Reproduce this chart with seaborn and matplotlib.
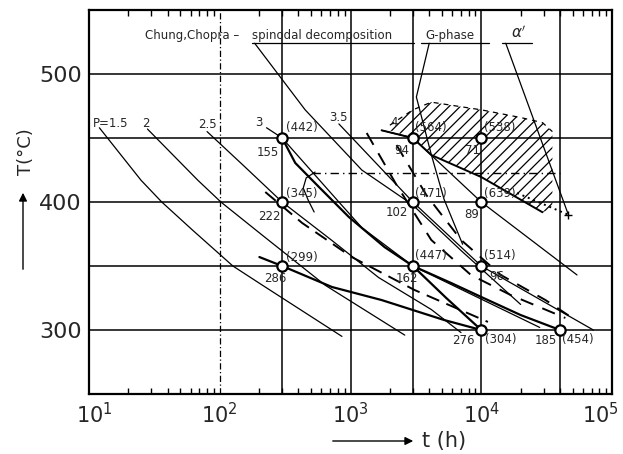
import matplotlib
matplotlib.use("Agg")
import matplotlib.pyplot as plt
import matplotlib.transforms as mtransforms
from matplotlib.ticker import LogLocator, NullFormatter
import seaborn as sns

# ---------------- data ----------------
# iso-parameter lines P
p_labels = ["P=1.5", "2", "2.5", "3", "3.5", "4"]
p15_t = [12, 25, 36, 62, 126, 212, 860]
p15_T = [458, 417, 400, 378, 350, 335, 295]
p2_t = [28, 68, 102, 212, 640, 2600]
p2_T = [457, 417, 400, 374, 335, 296]
p25_t = [80, 150, 300, 720, 1640, 4150, 7000]
p25_T = [455, 429, 400, 370, 341, 316, 298]
p3_t = [228, 300, 815, 1220, 3000, 28000]
p3_T = [458, 450, 400, 380, 350, 302]
p35_t = [815, 3000, 10000, 72000]
p35_T = [461, 400, 350, 300]
p4_t = [1730, 3000, 10000, 54000]
p4_T = [456, 450, 400, 343]

# Chung, Chopra spinodal decomposition line
chung_t = [185, 450, 1220, 2970, 7020, 20000]
chung_T = [524, 472, 425, 398, 362, 320]
# G-phase line
gph_t = [4000, 3190, 4150, 5200, 7200]
gph_T = [524, 482, 437, 402, 367]
# alpha' leader
alpha_t = [15400, 46400]
alpha_T = [524, 390]
# dotted end of alpha' boundary
dot_t = [18800, 46400]
dot_T = [407, 390]

# thick measured curves
thA_t = [300, 378, 574, 971, 1820, 3000, 5400, 10000]
thA_T = [450, 430.5, 411.7, 388.3, 364.8, 350, 325, 300]
thC_t = [201, 300, 721, 1730, 5200, 10000]
thC_T = [357, 350, 333.6, 323.4, 307.8, 300]
thD_t = [3000, 5890, 10000, 20000, 40000]
thD_T = [350, 336.7, 325.8, 311.7, 300]
# lower boundary of hatched region
bnd_t = [1730, 3000, 4150, 10000, 29400]
bnd_T = [456, 450, 436.7, 419.5, 392]

# dashed curves
d1_t = [223, 427, 1023, 3080, 11250]
d1_T = [407.8, 383.6, 357, 331.3, 306.3]
d2_t = [1330, 2250, 4150, 8340, 16800, 44000]
d2_T = [453.9, 413.3, 370.3, 343, 327.3, 309.4]
d3_t = [2250, 3800, 7020, 14100, 31000, 52400]
d3_T = [444.5, 405.5, 370.3, 343, 323.4, 307.8]

# dash-dot horizontal line and curved leader
dd_t = [510, 40000]
dd_T = [423, 423]
arc_t = [536, 458, 435, 474, 527]
arc_T = [423.4, 418.8, 410.9, 401.6, 392.2]

# hatched region
hatch_t = [2000, 3000, 4150, 10000, 20000, 29400, 35000]
hatch_lo = [456, 450, 436.7, 419.5, 401, 392, 395]
hatch_hi = [460, 472, 478, 472, 466, 462, 455]

# measured points
pts_t = [300, 300, 300, 3000, 3000, 3000, 10000, 10000, 10000, 10000, 40000]
pts_T = [450, 400, 350, 450, 400, 350, 450, 400, 350, 300, 300]
pts_lab = ["155", "222", "286", "94", "102", "162", "71", "89", "96", "276", "185"]
pts_par = ["(442)", "(345)", "(299)", "(564)", "(471)", "(447)", "(538)", "(639)",
           "(514)", "(304)", "(454)"]

x_ticks = [10, 100, 1000, 10000, 100000]
x_ticklabels = [r"$10^{1}$", r"$10^{2}$", r"$10^{3}$", r"$10^{4}$", r"$10^{5}$"]
y_ticks = [300, 400, 500]
h_grid = [300, 350, 400, 450, 500]
v_grid = [300, 1000, 3000, 10000, 40000]
v_grid_dash = [100]

# ---------------- style ----------------
sns.set_style("white")
plt.rcParams["font.family"] = ["DejaVu Sans"]
plt.rcParams["hatch.linewidth"] = 0.9
plt.rcParams["hatch.color"] = "black"

fig = plt.figure(figsize=(6.23, 4.54), dpi=100)
ax = fig.add_axes([89 / 623, 60 / 454, 523 / 623, 384 / 454])
ax.set_xscale("log")
ax.set_xlim(10, 1e5)
ax.set_ylim(250, 550)

for v in h_grid:
    ax.axhline(v, color="black", lw=1.1, zorder=1)
for v in v_grid:
    ax.axvline(v, color="black", lw=1.1, zorder=1)
for v in v_grid_dash:
    ax.axvline(v, color="black", lw=0.9, ls=(0, (5, 2, 1, 2)), zorder=1)


def curve(t, T, lw=0.9, ls="-"):
    sns.lineplot(x=t, y=T, ax=ax, color="black", linewidth=lw, linestyle=ls,
                 sort=False, estimator=None, legend=False, zorder=3)


# P lines
p_lines = [(p15_t, p15_T), (p2_t, p2_T), (p25_t, p25_T), (p3_t, p3_T),
           (p35_t, p35_T), (p4_t, p4_T)]
p_off = [(11, -4), (-2, -6), (0, -7), (-8, -5), (0, -6), (13, -8)]  # px
for (t, T), lab, (ox, oy) in zip(p_lines, p_labels, p_off):
    curve(t, T, lw=0.9)
    ax.annotate(lab, xy=(t[0], T[0]), xytext=(ox * 0.72, -oy * 0.72),
                textcoords="offset points", ha="center", va="center", fontsize=8.5)

curve(chung_t, chung_T, lw=0.9)
curve(gph_t, gph_T, lw=0.9)
curve(alpha_t, alpha_T, lw=0.9)
curve(dot_t, dot_T, lw=1.4, ls=(0, (1, 2)))
sns.scatterplot(x=[alpha_t[-1]], y=[alpha_T[-1]], ax=ax, marker="+", s=40,
                color="black", linewidth=1.0, legend=False, zorder=4)

curve(thA_t, thA_T, lw=1.6)
curve(thC_t, thC_T, lw=1.6)
curve(thD_t, thD_T, lw=1.6)
curve(bnd_t, bnd_T, lw=1.4)

curve(d1_t, d1_T, lw=1.4, ls=(0, (7, 4)))
curve(d2_t, d2_T, lw=1.4, ls=(0, (7, 5)))
curve(d3_t, d3_T, lw=1.4, ls=(0, (7, 5)))

curve(dd_t, dd_T, lw=1.0, ls=(0, (6, 3, 1, 3)))
curve(arc_t, arc_T, lw=0.9)

ax.fill_between(hatch_t, hatch_lo, hatch_hi, facecolor="none", edgecolor="black",
                hatch="///", linewidth=0, zorder=2)
curve(hatch_t, hatch_hi, lw=0.9, ls=(0, (4, 4)))

sns.scatterplot(x=pts_t, y=pts_T, ax=ax, s=55, color="white", edgecolor="black",
                linewidth=1.6, legend=False, zorder=6)

# point labels (offsets in px: right/down)
lab_off = [(-14, 15), (-13, 14), (-7, 12), (-11, 12), (-16, 11), (-6, 12),
           (-9, 12), (-10, 12), (16, 10), (-18, 10), (-14, 10)]
par_off = [(4, -10), (4, -9), (4, -8), (2, -10), (2, -8), (2, -10),
           (3, -10), (3, -9), (3, -10), (4, 10), (2, 10)]
for t, T, lab, (ox, oy) in zip(pts_t, pts_T, pts_lab, lab_off):
    ax.annotate(lab, xy=(t, T), xytext=(ox * 0.72, -oy * 0.72),
                textcoords="offset points", ha="center", va="center", fontsize=8.5,
                zorder=7)
for t, T, lab, (ox, oy) in zip(pts_t, pts_T, pts_par, par_off):
    ax.annotate(lab, xy=(t, T), xytext=(ox * 0.72, -oy * 0.72),
                textcoords="offset points", ha="left", va="center", fontsize=8.5,
                zorder=7)

# header texts inside plot
ty = (394 - 35) / 384
ax.text((145 - 89) / 523, ty, "Chung,Chopra \u2013", transform=ax.transAxes,
        ha="left", va="center", fontsize=8.5)
ax.text((252 - 89) / 523, ty, "spinodal decomposition", transform=ax.transAxes,
        ha="left", va="center", fontsize=8.5)
ax.text((425 - 89) / 523, ty, "G-phase", transform=ax.transAxes,
        ha="left", va="center", fontsize=8.5)
ax.text((511 - 89) / 523, ty + 0.005, r"$\alpha'$", transform=ax.transAxes,
        ha="left", va="center", fontsize=11)
uy = (394 - 43) / 384
for x0, x1 in [(252, 414), (421, 489), (502, 532)]:
    ax.plot([(x0 - 89) / 523, (x1 - 89) / 523], [uy, uy], color="black", lw=0.9,
            transform=ax.transAxes)

# axes styling
for s in ax.spines.values():
    s.set_linewidth(1.6)
    s.set_color("black")
ax.set_xticks(x_ticks)
ax.set_xticklabels(x_ticklabels, fontsize=15)
ax.xaxis.set_minor_locator(LogLocator(base=10, subs=range(2, 10), numticks=20))
ax.xaxis.set_minor_formatter(NullFormatter())
ax.tick_params(axis="x", which="both", direction="in", top=True, bottom=True,
               color="black")
ax.tick_params(axis="x", which="major", length=0, pad=6)
ax.tick_params(axis="x", which="minor", length=4, width=1.0)
ax.set_yticks(y_ticks)
ax.set_yticklabels([str(v) for v in y_ticks], fontsize=16)
ax.tick_params(axis="y", which="both", length=0, pad=5)
ax.set_xlabel("")
ax.set_ylabel("")

# shift the first and last x labels inward like the reference
xl = ax.get_xticklabels()
xl[0].set_transform(xl[0].get_transform() +
                    mtransforms.ScaledTranslation(5 / 100, 0, fig.dpi_scale_trans))
xl[-1].set_transform(xl[-1].get_transform() +
                     mtransforms.ScaledTranslation(-12 / 100, 0, fig.dpi_scale_trans))

# axis titles with arrows
fig.patches.append(matplotlib.patches.FancyArrowPatch(
    (330 / 623, 1 - 441 / 454), (416 / 623, 1 - 441 / 454), transform=fig.transFigure,
    arrowstyle="-|>", mutation_scale=12, color="black", lw=1.0))
fig.text(422 / 623, 1 - 441 / 454, "t (h)", ha="left", va="center", fontsize=15)
fig.patches.append(matplotlib.patches.FancyArrowPatch(
    (23 / 623, 1 - 272 / 454), (23 / 623, 1 - 190 / 454), transform=fig.transFigure,
    arrowstyle="-|>", mutation_scale=12, color="black", lw=1.0))
fig.text(26 / 623, 1 - 152 / 454, "T(\u00b0C)", ha="center", va="center",
         rotation=90, fontsize=13)

fig.savefig("out.png", dpi=100, facecolor="white")
